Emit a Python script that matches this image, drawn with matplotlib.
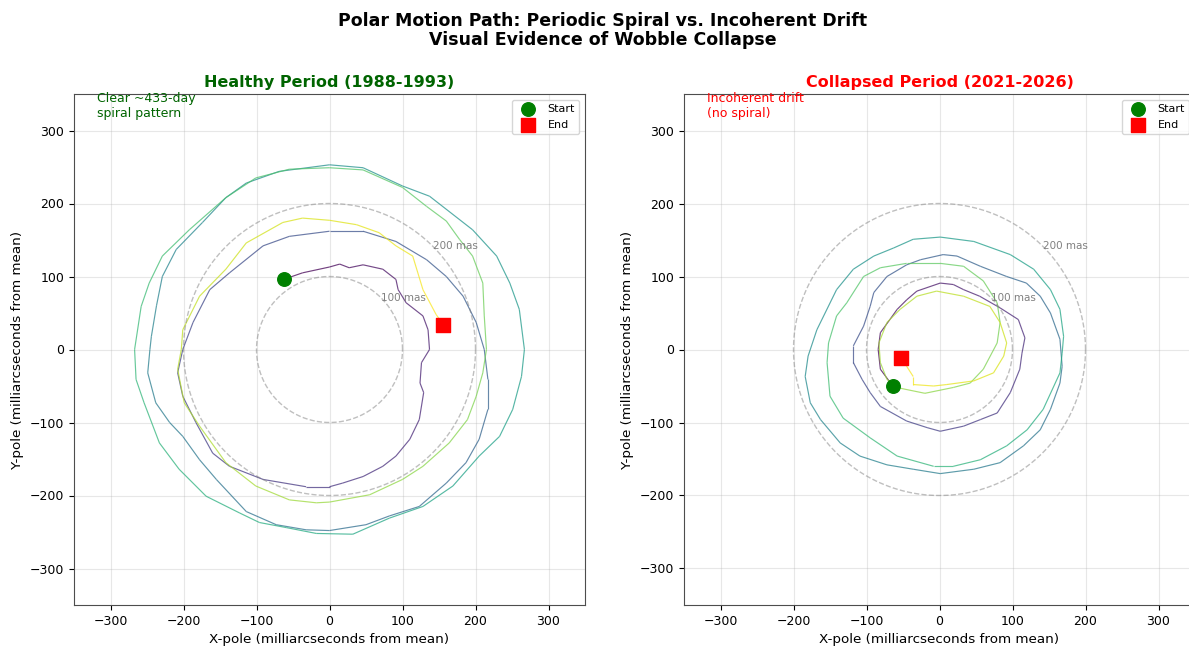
import matplotlib
matplotlib.use("Agg")
import matplotlib.pyplot as plt
import numpy as np
from matplotlib.collections import LineCollection

# path (mas), in time order
healthy_x = [-63, -37, 0, 14, 27, 46, 73, 91, 94, 105, 128, 135, 137, 126, 124, 129, 123, 110, 91, 73,
             46, 18, 0, -32, -91, -137, -160, -183, -201, -208, -201, -187, -164, -137, -91, -55, 0,
             46, 91, 133, 160, 183, 201, 212, 217, 217, 205, 187, 160, 123, 82, 50, 0, -32, -73, -114,
             -155, -178, -201, -219, -238, -249, -246, -244, -237, -229, -210, -174, -142, -114, -69, 0,
             46, 100, 137, 196, 229, 247, 260, 267, 263, 251, 233, 205, 169, 128, 82, 32, -18, -59, -96,
             -123, -169, -206, -233, -254, -265, -267, -258, -247, -229, -192, -142, -101, -55, 0,
             46, 100, 133, 160, 178, 196, 210, 212, 215, 210, 201, 189, 164, 128, 100, 55, 0, -18, -55,
             -101, -142, -178, -199, -208, -203, -201, -178, -142, -114, -64, -37, 0, 37, 68, 91, 114,
             121, 128, 146, 156]
healthy_y = [96, 105, 113, 117, 112, 116, 110, 96, 82, 64, 46, 27, 0, -18, -46, -59, -96, -123, -146, -160,
             -174, -183, -188, -188, -178, -160, -142, -100, -64, -32, 0, 37, 82, 105, 142, 155, 162,
             162, 148, 123, 100, 73, 37, 0, -41, -82, -123, -155, -183, -215, -228, -240, -248, -247, -240, -222,
             -178, -151, -119, -100, -73, -32, 0, 18, 60, 100, 137, 174, 208, 228, 244, 253,
             249, 224, 210, 164, 128, 91, 55, 0, -37, -82, -119, -146, -187, -215, -231, -253, -252, -244, -237,
             -224, -201, -164, -128, -73, -41, 0, 59, 91, 128, 164, 208, 235, 247, 249,
             246, 222, 196, 176, 151, 128, 91, 46, 0, -32, -64, -96, -128, -160, -178, -199, -209, -210, -206,
             -187, -155, -105, -73, -27, 0, 27, 73, 110, 146, 174, 180, 177, 171, 160, 142, 128,
             105, 82, 48, 34]

collapsed_x = [-64, -81, -84, -81, -68, -58, -45, -31, 1, 19, 33, 55, 83, 108, 113, 117, 113, 110, 97, 79,
               56, 33, 1, -17, -45, -81, -95, -106, -118, -118, -104, -95, -90, -72, -45, -26, 5,
               24, 56, 92, 119, 138, 152, 165, 168, 165, 152, 138, 115, 83, 47, 1, -36, -72, -109, -136,
               -163, -177, -184, -180, -168, -141, -118, -90, -63, -36, 1,
               47, 97, 129, 152, 165, 170, 168, 165, 142, 120, 92, 56, 19, -8, -58, -95, -132, -150, -154,
               -152, -141, -127, -104, -81, -45, 1,
               33, 60, 79, 83, 79, 60, 42, 19, -20, -54, -72, -81, -83, -72, -54, -31, -4, 33, 69, 83, 92,
               88, 74, 47, 10, -8, -36, -36, -45, -53]
collapsed_y = [-50, -27, 0, 23, 41, 55, 68, 80, 91, 89, 82, 73, 57, 41, 27, 16, -5, -27, -59, -87,
               -96, -105, -112, -107, -98, -78, -59, -41, -18, 5, 32, 59, 78, 100, 116, 123, 130,
               128, 114, 100, 91, 73, 50, 14, -23, -46, -82, -110, -132, -155, -164, -170, -164, -158, -146, -128,
               -96, -73, -37, -9, 27, 82, 110, 128, 139, 151, 154,
               148, 130, 110, 82, 55, 18, -5, -32, -82, -110, -132, -151, -160, -160, -146, -121, -94, -64, -18,
               9, 46, 64, 100, 112, 118, 118,
               114, 94, 64, 37, 9, -27, -46, -52, -60, -53, -41, -18, 9, 37, 55, 73, 80, 73, 59, 37, 9,
               -9, -32, -43, -48, -50, -48, -37, -23, -11]

ring_radii = [100, 200]
panel_titles = ["Healthy Period (1988-1993)", "Collapsed Period (2021-2026)"]
panel_colors = ["darkgreen", "red"]
panel_notes = ["Clear ~433-day\nspiral pattern", "Incoherent drift\n(no spiral)"]

fig = plt.figure(figsize=(11.89, 6.47), dpi=100)
ax1 = fig.add_axes([74 / 1189, 42 / 647, 511 / 1189, 511 / 647])
ax2 = fig.add_axes([684 / 1189, 42 / 647, 511 / 1189, 511 / 647])

paths = [(healthy_x, healthy_y), (collapsed_x, collapsed_y)]
for i, ax in enumerate([ax1, ax2]):
    px = np.array(paths[i][0], dtype=float)
    py = np.array(paths[i][1], dtype=float)
    pts = np.column_stack([px, py])
    segs = np.stack([pts[:-1], pts[1:]], axis=1)
    lc = LineCollection(segs, cmap='viridis', norm=plt.Normalize(0, len(segs) - 1),
                        linewidth=0.85, alpha=0.75)
    lc.set_array(np.arange(len(segs)))
    ax.add_collection(lc)

    # reference circles
    th = np.linspace(0, 2 * np.pi, 200)
    for r in ring_radii:
        ax.plot(r * np.cos(th), r * np.sin(th), '--', color='gray', alpha=0.5, lw=1)
        ax.text(r * 0.707, r * 0.707, f"{r} mas", fontsize=7.5, color='gray', va='center')

    ax.scatter(px[0], py[0], s=95, marker='o', color='green', zorder=5, label='Start')
    ax.scatter(px[-1], py[-1], s=95, marker='s', color='red', zorder=5, label='End')

    ax.set_xlim(-350, 350)
    ax.set_ylim(-350, 350)
    ax.set_aspect('equal')
    ax.grid(True, alpha=0.3)
    ax.tick_params(labelsize=9)
    ax.set_xlabel("X-pole (milliarcseconds from mean)", fontsize=9.7)
    ax.set_ylabel("Y-pole (milliarcseconds from mean)", fontsize=9.7)
    ax.set_title(panel_titles[i], fontsize=11.5, fontweight='bold', color=panel_colors[i], pad=5)
    ax.text(0.045, 1.003, panel_notes[i], transform=ax.transAxes, fontsize=9,
            color=panel_colors[i], va='top')
    ax.legend(loc='upper right', fontsize=8)
    for s in ax.spines.values():
        s.set_color('0.3')

fig.text(0.507, 0.982, "Polar Motion Path: Periodic Spiral vs. Incoherent Drift\nVisual Evidence of Wobble Collapse",
         ha='center', va='top', fontsize=12.5, fontweight='bold', linespacing=1.1)

fig.savefig("out.png", dpi=100)
